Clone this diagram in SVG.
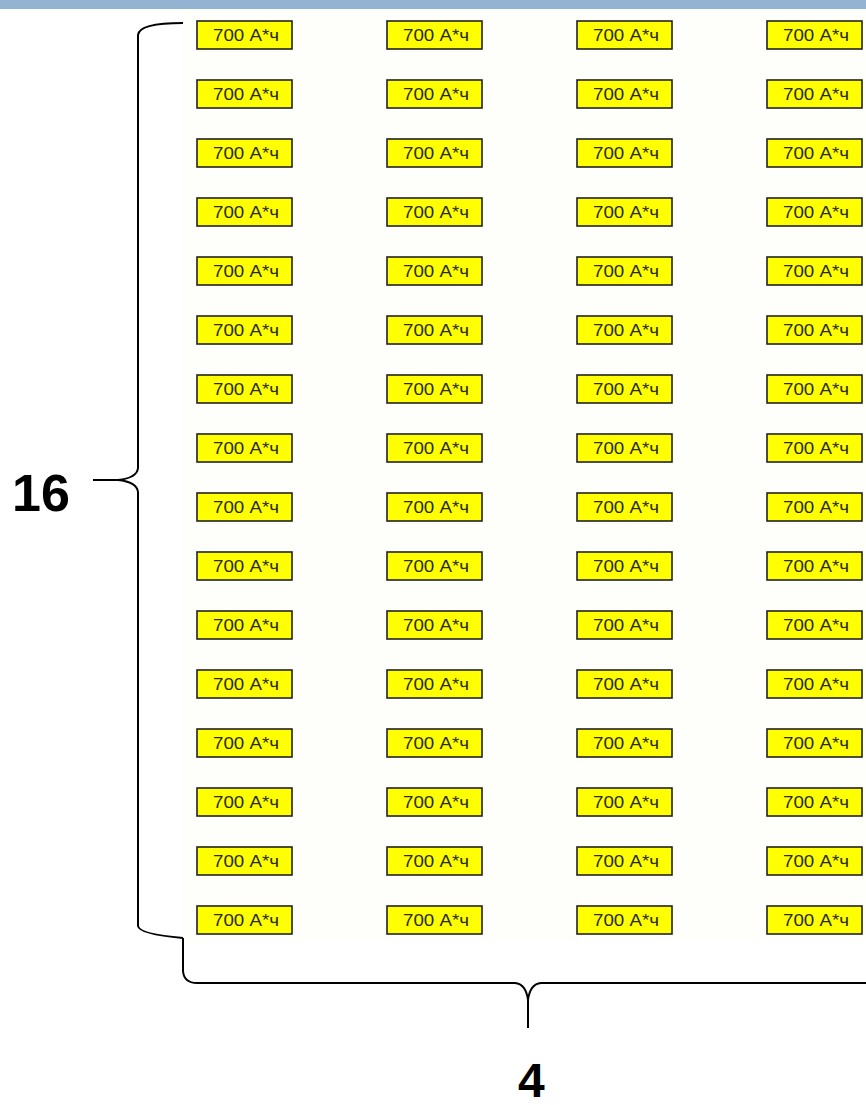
<svg xmlns="http://www.w3.org/2000/svg" width="866" height="1105" viewBox="0 0 866 1105">
<style>
.b rect{fill:#ffff00;stroke:#222;stroke-width:1.6}
.b text{font-family:"Liberation Sans",Arial,sans-serif;font-size:16px;fill:#2a2a1a;text-anchor:middle}
.br{fill:none;stroke:#000;stroke-width:2}
.lbl{font-family:"Liberation Sans",Arial,sans-serif;font-weight:bold;font-size:52px;fill:#000}
</style>
<rect x="0" y="0" width="866" height="1105" fill="#fff"/>
<rect x="0" y="0" width="866" height="9" fill="#94b3d3"/>
<rect x="182" y="9" width="684" height="932" fill="#fefefb"/>
<g id="connectors">
<path class="br" d="M183,23 Q139,23 138,35 L138,468 Q137,478 118,480 L93,480 M118,480 Q137,482 138,492 L138,926 Q139,934 183,938"/>
<path class="br" d="M183,938 L183,971 Q184,983 197,983 L515,983 Q526,984 528,1000 L528,1028 M528,1000 Q530,984 541,983 L866,983"/>
</g>
<g id="label-16"><text class="lbl" x="12" y="511">16</text></g>
<g id="label-4"><text class="lbl" x="518" y="1097" style="font-size:48px">4</text></g>
<g id="r1c1" class="b"><rect x="197" y="21" width="95" height="28"/><text x="246" y="41" textLength="66" lengthAdjust="spacingAndGlyphs">700 А*ч</text></g>
<g id="r1c2" class="b"><rect x="387" y="21" width="95" height="28"/><text x="436" y="41" textLength="66" lengthAdjust="spacingAndGlyphs">700 А*ч</text></g>
<g id="r1c3" class="b"><rect x="577" y="21" width="95" height="28"/><text x="626" y="41" textLength="66" lengthAdjust="spacingAndGlyphs">700 А*ч</text></g>
<g id="r1c4" class="b"><rect x="767" y="21" width="95" height="28"/><text x="816" y="41" textLength="66" lengthAdjust="spacingAndGlyphs">700 А*ч</text></g>
<g id="r2c1" class="b"><rect x="197" y="80" width="95" height="28"/><text x="246" y="100" textLength="66" lengthAdjust="spacingAndGlyphs">700 А*ч</text></g>
<g id="r2c2" class="b"><rect x="387" y="80" width="95" height="28"/><text x="436" y="100" textLength="66" lengthAdjust="spacingAndGlyphs">700 А*ч</text></g>
<g id="r2c3" class="b"><rect x="577" y="80" width="95" height="28"/><text x="626" y="100" textLength="66" lengthAdjust="spacingAndGlyphs">700 А*ч</text></g>
<g id="r2c4" class="b"><rect x="767" y="80" width="95" height="28"/><text x="816" y="100" textLength="66" lengthAdjust="spacingAndGlyphs">700 А*ч</text></g>
<g id="r3c1" class="b"><rect x="197" y="139" width="95" height="28"/><text x="246" y="159" textLength="66" lengthAdjust="spacingAndGlyphs">700 А*ч</text></g>
<g id="r3c2" class="b"><rect x="387" y="139" width="95" height="28"/><text x="436" y="159" textLength="66" lengthAdjust="spacingAndGlyphs">700 А*ч</text></g>
<g id="r3c3" class="b"><rect x="577" y="139" width="95" height="28"/><text x="626" y="159" textLength="66" lengthAdjust="spacingAndGlyphs">700 А*ч</text></g>
<g id="r3c4" class="b"><rect x="767" y="139" width="95" height="28"/><text x="816" y="159" textLength="66" lengthAdjust="spacingAndGlyphs">700 А*ч</text></g>
<g id="r4c1" class="b"><rect x="197" y="198" width="95" height="28"/><text x="246" y="218" textLength="66" lengthAdjust="spacingAndGlyphs">700 А*ч</text></g>
<g id="r4c2" class="b"><rect x="387" y="198" width="95" height="28"/><text x="436" y="218" textLength="66" lengthAdjust="spacingAndGlyphs">700 А*ч</text></g>
<g id="r4c3" class="b"><rect x="577" y="198" width="95" height="28"/><text x="626" y="218" textLength="66" lengthAdjust="spacingAndGlyphs">700 А*ч</text></g>
<g id="r4c4" class="b"><rect x="767" y="198" width="95" height="28"/><text x="816" y="218" textLength="66" lengthAdjust="spacingAndGlyphs">700 А*ч</text></g>
<g id="r5c1" class="b"><rect x="197" y="257" width="95" height="28"/><text x="246" y="277" textLength="66" lengthAdjust="spacingAndGlyphs">700 А*ч</text></g>
<g id="r5c2" class="b"><rect x="387" y="257" width="95" height="28"/><text x="436" y="277" textLength="66" lengthAdjust="spacingAndGlyphs">700 А*ч</text></g>
<g id="r5c3" class="b"><rect x="577" y="257" width="95" height="28"/><text x="626" y="277" textLength="66" lengthAdjust="spacingAndGlyphs">700 А*ч</text></g>
<g id="r5c4" class="b"><rect x="767" y="257" width="95" height="28"/><text x="816" y="277" textLength="66" lengthAdjust="spacingAndGlyphs">700 А*ч</text></g>
<g id="r6c1" class="b"><rect x="197" y="316" width="95" height="28"/><text x="246" y="336" textLength="66" lengthAdjust="spacingAndGlyphs">700 А*ч</text></g>
<g id="r6c2" class="b"><rect x="387" y="316" width="95" height="28"/><text x="436" y="336" textLength="66" lengthAdjust="spacingAndGlyphs">700 А*ч</text></g>
<g id="r6c3" class="b"><rect x="577" y="316" width="95" height="28"/><text x="626" y="336" textLength="66" lengthAdjust="spacingAndGlyphs">700 А*ч</text></g>
<g id="r6c4" class="b"><rect x="767" y="316" width="95" height="28"/><text x="816" y="336" textLength="66" lengthAdjust="spacingAndGlyphs">700 А*ч</text></g>
<g id="r7c1" class="b"><rect x="197" y="375" width="95" height="28"/><text x="246" y="395" textLength="66" lengthAdjust="spacingAndGlyphs">700 А*ч</text></g>
<g id="r7c2" class="b"><rect x="387" y="375" width="95" height="28"/><text x="436" y="395" textLength="66" lengthAdjust="spacingAndGlyphs">700 А*ч</text></g>
<g id="r7c3" class="b"><rect x="577" y="375" width="95" height="28"/><text x="626" y="395" textLength="66" lengthAdjust="spacingAndGlyphs">700 А*ч</text></g>
<g id="r7c4" class="b"><rect x="767" y="375" width="95" height="28"/><text x="816" y="395" textLength="66" lengthAdjust="spacingAndGlyphs">700 А*ч</text></g>
<g id="r8c1" class="b"><rect x="197" y="434" width="95" height="28"/><text x="246" y="454" textLength="66" lengthAdjust="spacingAndGlyphs">700 А*ч</text></g>
<g id="r8c2" class="b"><rect x="387" y="434" width="95" height="28"/><text x="436" y="454" textLength="66" lengthAdjust="spacingAndGlyphs">700 А*ч</text></g>
<g id="r8c3" class="b"><rect x="577" y="434" width="95" height="28"/><text x="626" y="454" textLength="66" lengthAdjust="spacingAndGlyphs">700 А*ч</text></g>
<g id="r8c4" class="b"><rect x="767" y="434" width="95" height="28"/><text x="816" y="454" textLength="66" lengthAdjust="spacingAndGlyphs">700 А*ч</text></g>
<g id="r9c1" class="b"><rect x="197" y="493" width="95" height="28"/><text x="246" y="513" textLength="66" lengthAdjust="spacingAndGlyphs">700 А*ч</text></g>
<g id="r9c2" class="b"><rect x="387" y="493" width="95" height="28"/><text x="436" y="513" textLength="66" lengthAdjust="spacingAndGlyphs">700 А*ч</text></g>
<g id="r9c3" class="b"><rect x="577" y="493" width="95" height="28"/><text x="626" y="513" textLength="66" lengthAdjust="spacingAndGlyphs">700 А*ч</text></g>
<g id="r9c4" class="b"><rect x="767" y="493" width="95" height="28"/><text x="816" y="513" textLength="66" lengthAdjust="spacingAndGlyphs">700 А*ч</text></g>
<g id="r10c1" class="b"><rect x="197" y="552" width="95" height="28"/><text x="246" y="572" textLength="66" lengthAdjust="spacingAndGlyphs">700 А*ч</text></g>
<g id="r10c2" class="b"><rect x="387" y="552" width="95" height="28"/><text x="436" y="572" textLength="66" lengthAdjust="spacingAndGlyphs">700 А*ч</text></g>
<g id="r10c3" class="b"><rect x="577" y="552" width="95" height="28"/><text x="626" y="572" textLength="66" lengthAdjust="spacingAndGlyphs">700 А*ч</text></g>
<g id="r10c4" class="b"><rect x="767" y="552" width="95" height="28"/><text x="816" y="572" textLength="66" lengthAdjust="spacingAndGlyphs">700 А*ч</text></g>
<g id="r11c1" class="b"><rect x="197" y="611" width="95" height="28"/><text x="246" y="631" textLength="66" lengthAdjust="spacingAndGlyphs">700 А*ч</text></g>
<g id="r11c2" class="b"><rect x="387" y="611" width="95" height="28"/><text x="436" y="631" textLength="66" lengthAdjust="spacingAndGlyphs">700 А*ч</text></g>
<g id="r11c3" class="b"><rect x="577" y="611" width="95" height="28"/><text x="626" y="631" textLength="66" lengthAdjust="spacingAndGlyphs">700 А*ч</text></g>
<g id="r11c4" class="b"><rect x="767" y="611" width="95" height="28"/><text x="816" y="631" textLength="66" lengthAdjust="spacingAndGlyphs">700 А*ч</text></g>
<g id="r12c1" class="b"><rect x="197" y="670" width="95" height="28"/><text x="246" y="690" textLength="66" lengthAdjust="spacingAndGlyphs">700 А*ч</text></g>
<g id="r12c2" class="b"><rect x="387" y="670" width="95" height="28"/><text x="436" y="690" textLength="66" lengthAdjust="spacingAndGlyphs">700 А*ч</text></g>
<g id="r12c3" class="b"><rect x="577" y="670" width="95" height="28"/><text x="626" y="690" textLength="66" lengthAdjust="spacingAndGlyphs">700 А*ч</text></g>
<g id="r12c4" class="b"><rect x="767" y="670" width="95" height="28"/><text x="816" y="690" textLength="66" lengthAdjust="spacingAndGlyphs">700 А*ч</text></g>
<g id="r13c1" class="b"><rect x="197" y="729" width="95" height="28"/><text x="246" y="749" textLength="66" lengthAdjust="spacingAndGlyphs">700 А*ч</text></g>
<g id="r13c2" class="b"><rect x="387" y="729" width="95" height="28"/><text x="436" y="749" textLength="66" lengthAdjust="spacingAndGlyphs">700 А*ч</text></g>
<g id="r13c3" class="b"><rect x="577" y="729" width="95" height="28"/><text x="626" y="749" textLength="66" lengthAdjust="spacingAndGlyphs">700 А*ч</text></g>
<g id="r13c4" class="b"><rect x="767" y="729" width="95" height="28"/><text x="816" y="749" textLength="66" lengthAdjust="spacingAndGlyphs">700 А*ч</text></g>
<g id="r14c1" class="b"><rect x="197" y="788" width="95" height="28"/><text x="246" y="808" textLength="66" lengthAdjust="spacingAndGlyphs">700 А*ч</text></g>
<g id="r14c2" class="b"><rect x="387" y="788" width="95" height="28"/><text x="436" y="808" textLength="66" lengthAdjust="spacingAndGlyphs">700 А*ч</text></g>
<g id="r14c3" class="b"><rect x="577" y="788" width="95" height="28"/><text x="626" y="808" textLength="66" lengthAdjust="spacingAndGlyphs">700 А*ч</text></g>
<g id="r14c4" class="b"><rect x="767" y="788" width="95" height="28"/><text x="816" y="808" textLength="66" lengthAdjust="spacingAndGlyphs">700 А*ч</text></g>
<g id="r15c1" class="b"><rect x="197" y="847" width="95" height="28"/><text x="246" y="867" textLength="66" lengthAdjust="spacingAndGlyphs">700 А*ч</text></g>
<g id="r15c2" class="b"><rect x="387" y="847" width="95" height="28"/><text x="436" y="867" textLength="66" lengthAdjust="spacingAndGlyphs">700 А*ч</text></g>
<g id="r15c3" class="b"><rect x="577" y="847" width="95" height="28"/><text x="626" y="867" textLength="66" lengthAdjust="spacingAndGlyphs">700 А*ч</text></g>
<g id="r15c4" class="b"><rect x="767" y="847" width="95" height="28"/><text x="816" y="867" textLength="66" lengthAdjust="spacingAndGlyphs">700 А*ч</text></g>
<g id="r16c1" class="b"><rect x="197" y="906" width="95" height="28"/><text x="246" y="926" textLength="66" lengthAdjust="spacingAndGlyphs">700 А*ч</text></g>
<g id="r16c2" class="b"><rect x="387" y="906" width="95" height="28"/><text x="436" y="926" textLength="66" lengthAdjust="spacingAndGlyphs">700 А*ч</text></g>
<g id="r16c3" class="b"><rect x="577" y="906" width="95" height="28"/><text x="626" y="926" textLength="66" lengthAdjust="spacingAndGlyphs">700 А*ч</text></g>
<g id="r16c4" class="b"><rect x="767" y="906" width="95" height="28"/><text x="816" y="926" textLength="66" lengthAdjust="spacingAndGlyphs">700 А*ч</text></g>
</svg>
